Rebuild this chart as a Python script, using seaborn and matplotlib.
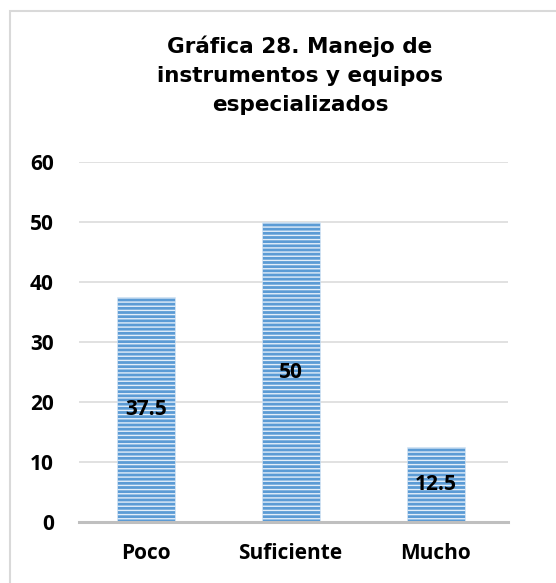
import matplotlib
matplotlib.use("Agg")
import matplotlib.pyplot as plt
import seaborn as sns
import pandas as pd
from matplotlib.patches import Rectangle

# datos de la grafica
categorias = ["Poco", "Suficiente", "Mucho"]
porcentajes = [37.5, 50, 12.5]
etiquetas = ["37.5", "50", "12.5"]
titulo = "Gráfica 28. Manejo de\ninstrumentos y equipos\nespecializados"

sns.set_style("white")
plt.rcParams["font.family"] = ["Open Sans", "DejaVu Sans"]
plt.rcParams["hatch.linewidth"] = 1.0
plt.rcParams["hatch.color"] = "#E3EEF9"

df = pd.DataFrame({"categoria": categorias, "valor": porcentajes})

fig = plt.figure(figsize=(5.56, 5.83), dpi=100)
ax = fig.add_axes([79 / 556, 61 / 583, 429 / 556, 360 / 583])

sns.barplot(data=df, x="categoria", y="valor", color="#5B9BD5",
            saturation=1, width=0.4, ax=ax, zorder=3)

for p in ax.patches:
    p.set_hatch("----")
    p.set_edgecolor("#E3EEF9")
    p.set_linewidth(0.4)

# etiquetas dentro de las barras
for i, (v, t) in enumerate(zip(porcentajes, etiquetas)):
    ax.text(i, v / 2, t, ha="center", va="center", fontsize=15,
            fontweight="bold", color="black", zorder=4)

ax.set_xlim(-0.46, 2.50)
ax.set_ylim(0, 60)
ax.set_yticks(range(0, 61, 10))
ax.grid(axis="y", color="#D9D9D9", linewidth=1.1, zorder=0)
ax.set_xlabel("")
ax.set_ylabel("")
for s in ["left", "right", "top"]:
    ax.spines[s].set_visible(False)
ax.spines["bottom"].set_color("#BFBFBF")
ax.spines["bottom"].set_linewidth(2.2)
ax.spines["bottom"].set_zorder(5)
ax.tick_params(axis="both", length=0, labelsize=15, labelcolor="black")
ax.tick_params(axis="y", pad=18)
ax.tick_params(axis="x", pad=15)
for lbl in ax.get_xticklabels() + ax.get_yticklabels():
    lbl.set_fontweight("bold")

fig.text(300 / 556, 1 - 75 / 583, titulo, ha="center", va="center",
         fontsize=15.5, fontweight="bold", family="DejaVu Sans",
         linespacing=1.55, color="black")

# marco gris del grafico
fig.patches.append(Rectangle((10 / 556, -0.1), 1.2, 1 - 10.5 / 583 + 0.1,
                             transform=fig.transFigure, fill=False,
                             edgecolor="#D9D9D9", linewidth=1.5))

fig.savefig("out.png", dpi=100)
